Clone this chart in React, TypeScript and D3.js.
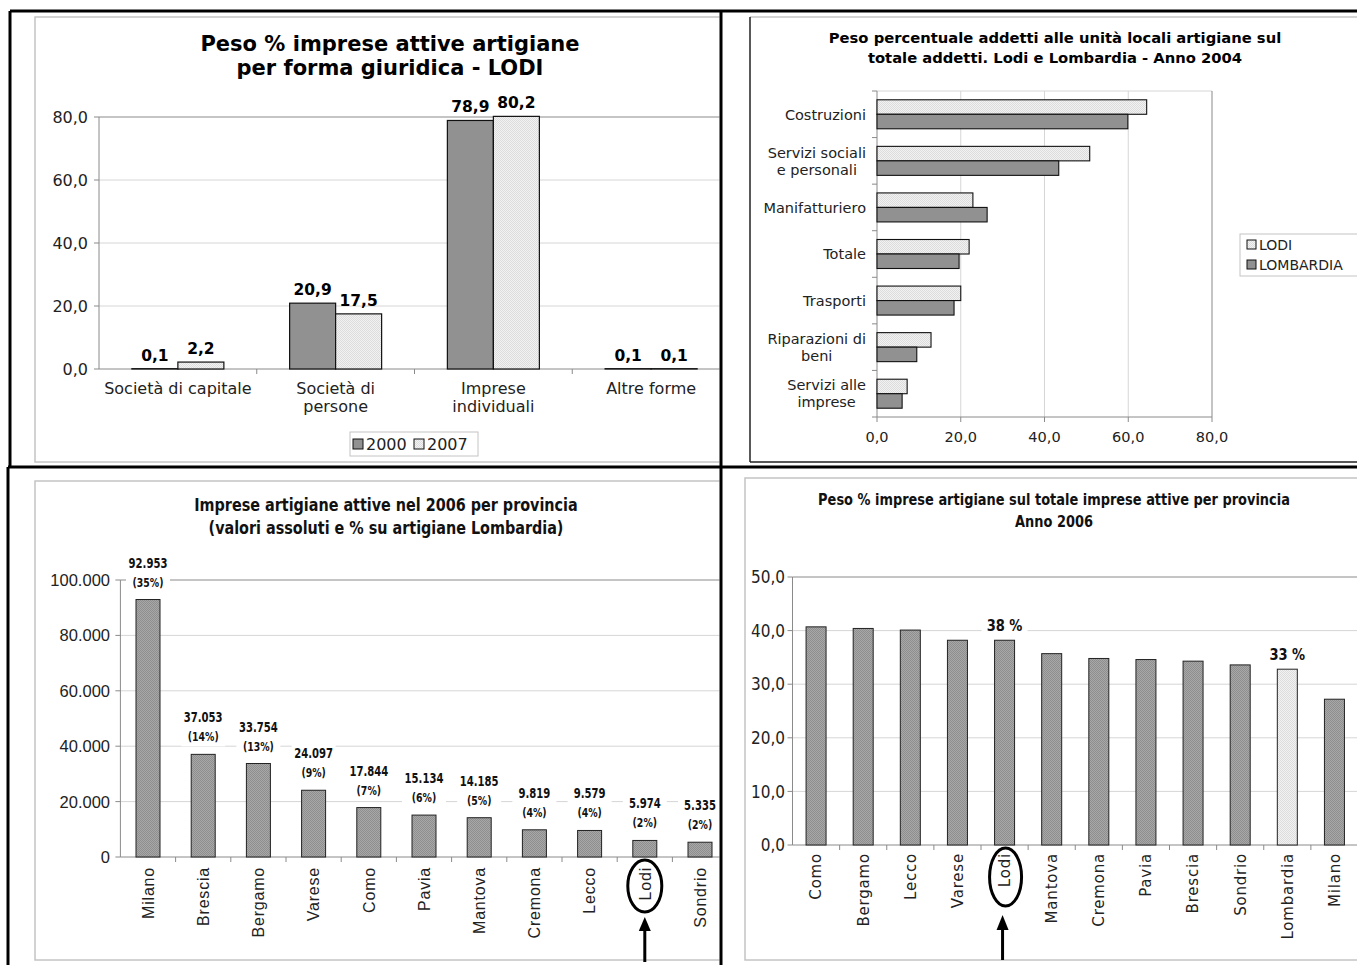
import React from 'react';
import * as d3 from 'd3';

// ---------- Peso % imprese attive artigiane per forma giuridica (LODI) ----------
const formeGiuridiche = ['Società di capitale', 'Società di\npersone', 'Imprese\nindividuali', 'Altre forme'];
const peso2000 = [0.1, 20.9, 78.9, 0.1];
const peso2007 = [2.2, 17.5, 80.2, 0.1];
const anni = ['2000', '2007'];
const tickForme = [0, 20, 40, 60, 80];

// ---------- Peso % addetti unità locali artigiane, Lodi e Lombardia 2004 ----------
const settori = [
  'Costruzioni',
  'Servizi sociali\ne personali',
  'Manifatturiero',
  'Totale',
  'Trasporti',
  'Riparazioni di\nbeni',
  'Servizi alle\nimprese',
];
const addettiLodi = [64.4, 50.8, 22.9, 22.0, 20.0, 12.9, 7.2];
const addettiLombardia = [59.9, 43.4, 26.3, 19.6, 18.4, 9.5, 6.0];
const territori = ['LODI', 'LOMBARDIA'];
const tickSettori = [0, 20, 40, 60, 80];

// ---------- Imprese artigiane attive nel 2006 per provincia ----------
const province = ['Milano', 'Brescia', 'Bergamo', 'Varese', 'Como', 'Pavia', 'Mantova', 'Cremona', 'Lecco', 'Lodi', 'Sondrio'];
const impreseAttive = [92953, 37053, 33754, 24097, 17844, 15134, 14185, 9819, 9579, 5974, 5335];
const quotaLombardia = [35, 14, 13, 9, 7, 6, 5, 4, 4, 2, 2];
const tickImprese = [0, 20000, 40000, 60000, 80000, 100000];

// ---------- Peso % imprese artigiane sul totale imprese attive, 2006 ----------
const provincePeso = ['Como', 'Bergamo', 'Lecco', 'Varese', 'Lodi', 'Mantova', 'Cremona', 'Pavia', 'Brescia', 'Sondrio', 'Lombardia', 'Milano'];
const pesoArtigiane = [40.7, 40.4, 40.1, 38.2, 38.2, 35.7, 34.8, 34.6, 34.3, 33.6, 32.8, 27.2];
const tickPeso = [0, 10, 20, 30, 40, 50];
const conEtichetta = ['Lodi', 'Lombardia'];
const mediaRegionale = 'Lombardia';
const provinciaEvidenziata = 'Lodi';

// ---------- formatting & fonts ----------
const it = d3.formatLocale({ decimal: ',', thousands: '.', grouping: [3], currency: ['€', ''] });
const fmt1 = it.format('.1f');
const fmtInt = it.format(',d');

const VERDANA = "'DejaVu Sans', Verdana, sans-serif";
const ARIAL = "'Liberation Sans', Arial, sans-serif";
const NARROW = "'DejaVu Sans Condensed', 'Arial Narrow', sans-serif";

const DARK = '#919191';
const AXIS = '#8a8a8a';
const GRID = '#d6d6d6';
const FRAME = '#c4c4c4';

let measureCtx: CanvasRenderingContext2D | null = null;
function textWidth(s: string, font: string): number {
  if (!measureCtx) measureCtx = document.createElement('canvas').getContext('2d');
  if (!measureCtx) return s.length * 7;
  measureCtx.font = font;
  return measureCtx.measureText(s).width;
}

// Bold condensed text, squeezed horizontally to a narrow face.
function NarrowText(props: { x: number; y: number; size: number; sx: number; children: React.ReactNode; weight?: string }) {
  const { x, y, size, sx, children, weight = 'bold' } = props;
  return (
    <text
      transform={`translate(${x},${y}) scale(${sx},1)`}
      textAnchor="middle"
      fontFamily={NARROW}
      fontWeight={weight}
      fontSize={size}
      fill="#111"
    >
      {children}
    </text>
  );
}

function Patterns() {
  return (
    <defs>
      <pattern id="pLight" width="2" height="2" patternUnits="userSpaceOnUse">
        <rect width="2" height="2" fill="#f2f2f2" />
        <rect width="1" height="1" fill="#dcdcdc" />
        <rect x="1" y="1" width="1" height="1" fill="#dcdcdc" />
      </pattern>
      <pattern id="pDark" width="2" height="2" patternUnits="userSpaceOnUse">
        <rect width="2" height="2" fill="#a8a8a8" />
        <rect width="1" height="1" fill="#8e8e8e" />
        <rect x="1" y="1" width="1" height="1" fill="#8e8e8e" />
      </pattern>
      <pattern id="pLight2" width="2" height="2" patternUnits="userSpaceOnUse">
        <rect width="2" height="2" fill="#f2f2f2" />
        <rect width="1" height="1" fill="#dcdcdc" />
        <rect x="1" y="1" width="1" height="1" fill="#dcdcdc" />
      </pattern>
      <clipPath id="clip1"><rect x="11.5" y="12.5" width="708" height="453" /></clipPath>
      <clipPath id="clip2"><rect x="722.5" y="12.5" width="640" height="453" /></clipPath>
      <clipPath id="clip3"><rect x="9.5" y="468.5" width="710" height="500" /></clipPath>
      <clipPath id="clip4"><rect x="722.5" y="468.5" width="640" height="500" /></clipPath>
    </defs>
  );
}

// ---------- chart 1 ----------
function FormaGiuridica() {
  const x = d3.scaleBand<string>().domain(formeGiuridiche).range([99, 730]);
  const y = d3.scaleLinear().domain([0, 80]).range([369, 117]);
  const barW = 46;
  const x0 = 99, x1 = 730;
  return (
    <g clipPath="url(#clip1)">
      <rect x={35} y={17} width={720} height={445} fill="#fff" stroke={FRAME} strokeWidth={1.5} />
      <text x={390} y={51} textAnchor="middle" fontFamily={VERDANA} fontWeight="bold" fontSize={21}>
        Peso % imprese attive artigiane
      </text>
      <text x={390} y={75} textAnchor="middle" fontFamily={VERDANA} fontWeight="bold" fontSize={21}>
        per forma giuridica - LODI
      </text>
      {tickForme.map((t) => (
        <g key={t}>
          {t > 0 && (
            <line x1={x0} x2={x1} y1={y(t)} y2={y(t)} stroke={t === 80 ? AXIS : GRID} strokeWidth={1} />
          )}
          <line x1={x0 - 5} x2={x0} y1={y(t)} y2={y(t)} stroke={AXIS} />
          <text x={88} y={y(t)} dy="0.36em" textAnchor="end" fontFamily={VERDANA} fontSize={16} fill="#222">
            {fmt1(t)}
          </text>
        </g>
      ))}
      <line x1={x0} x2={x0} y1={y(80)} y2={y(0)} stroke={AXIS} />
      <line x1={x0} x2={x1} y1={y(0)} y2={y(0)} stroke={AXIS} />
      {formeGiuridiche.map((c, i) => {
        const cx = (x(c) as number) + x.bandwidth() / 2;
        return (
          <g key={c}>
            <line x1={x(c)! + x.bandwidth()} x2={x(c)! + x.bandwidth()} y1={y(0)} y2={y(0) + 5} stroke={AXIS} />
            <rect x={cx - barW} y={y(peso2000[i])} width={barW} height={y(0) - y(peso2000[i])} fill={DARK} stroke="#111" strokeWidth={1.2} />
            <rect x={cx} y={y(peso2007[i])} width={barW} height={y(0) - y(peso2007[i])} fill="url(#pLight)" stroke="#111" strokeWidth={1.2} />
            <text x={cx - barW / 2} y={y(peso2000[i]) - 8} textAnchor="middle" fontFamily={VERDANA} fontWeight="bold" fontSize={15.5}>
              {fmt1(peso2000[i])}
            </text>
            <text x={cx + barW / 2} y={y(peso2007[i]) - 8} textAnchor="middle" fontFamily={VERDANA} fontWeight="bold" fontSize={15.5}>
              {fmt1(peso2007[i])}
            </text>
            {c.split('\n').map((line, k) => (
              <text key={k} x={cx} y={394 + k * 18} textAnchor="middle" fontFamily={VERDANA} fontSize={16} fill="#222">
                {line}
              </text>
            ))}
          </g>
        );
      })}
      {/* legend */}
      <rect x={350} y={432} width={128} height={24} fill="#fff" stroke={FRAME} />
      {anni.map((a, k) => (
        <g key={a}>
          <rect x={353 + k * 61} y={439} width={10} height={10} fill={k === 0 ? DARK : 'url(#pLight)'} stroke="#111" />
          <text x={366 + k * 61} y={450} fontFamily={VERDANA} fontSize={16} fill="#222">{a}</text>
        </g>
      ))}
    </g>
  );
}

// ---------- chart 2 ----------
function AddettiSettori() {
  const y = d3.scaleBand<string>().domain(settori).range([91, 417]);
  const x = d3.scaleLinear().domain([0, 80]).range([877, 1212]);
  const barH = 14.5;
  const fontSize = 14.5;
  const font = `${fontSize}px ${VERDANA}`;
  return (
    <g clipPath="url(#clip2)">
      <rect x={750} y={17} width={640} height={445} fill="#fff" stroke="none" />
      <line x1={750} x2={1400} y1={17} y2={17} stroke={FRAME} strokeWidth={1.5} />
      <line x1={750} x2={750} y1={17} y2={462} stroke="#222" strokeWidth={1.5} />
      <line x1={750} x2={1400} y1={462} y2={462} stroke="#222" strokeWidth={1.5} />
      <text x={1055} y={43} textAnchor="middle" fontFamily={VERDANA} fontWeight="bold" fontSize={14.75}>
        Peso percentuale addetti alle unità locali artigiane sul
      </text>
      <text x={1055} y={63} textAnchor="middle" fontFamily={VERDANA} fontWeight="bold" fontSize={14.75}>
        totale addetti. Lodi e Lombardia - Anno 2004
      </text>
      <line x1={x(0)} x2={x(80)} y1={91} y2={91} stroke={GRID} />
      {tickSettori.map((t) => (
        <g key={t}>
          {t > 0 && <line x1={x(t)} x2={x(t)} y1={91} y2={417} stroke={t === 80 ? AXIS : GRID} />}
          <line x1={x(t)} x2={x(t)} y1={417} y2={422} stroke={AXIS} />
          <text x={x(t)} y={442} textAnchor="middle" fontFamily={VERDANA} fontSize={fontSize} fill="#222">
            {fmt1(t)}
          </text>
        </g>
      ))}
      <line x1={x(0)} x2={x(0)} y1={91} y2={417} stroke={AXIS} />
      <line x1={x(0)} x2={x(80)} y1={417} y2={417} stroke={AXIS} />
      {settori.map((s, i) => {
        const top = y(s) as number;
        const cy = top + y.bandwidth() / 2;
        const lines = s.split('\n');
        const maxW = Math.max(...lines.map((l) => textWidth(l, font)));
        return (
          <g key={s}>
            <line x1={x(0) - 5} x2={x(0)} y1={top} y2={top} stroke={AXIS} />
            <rect x={x(0)} y={cy - barH} width={x(addettiLodi[i]) - x(0)} height={barH} fill="url(#pLight)" stroke="#111" strokeWidth={1.1} />
            <rect x={x(0)} y={cy} width={x(addettiLombardia[i]) - x(0)} height={barH} fill={DARK} stroke="#111" strokeWidth={1.1} />
            {lines.length === 1 ? (
              <text x={866} y={cy} dy="0.36em" textAnchor="end" fontFamily={VERDANA} fontSize={fontSize} fill="#222">{s}</text>
            ) : (
              lines.map((l, k) => (
                <text key={k} x={866 - maxW / 2} y={cy + (k - (lines.length - 1) / 2) * 17} dy="0.36em" textAnchor="middle" fontFamily={VERDANA} fontSize={fontSize} fill="#222">
                  {l}
                </text>
              ))
            )}
          </g>
        );
      })}
      <line x1={x(0) - 5} x2={x(0)} y1={417} y2={417} stroke={AXIS} />
      {/* legend */}
      <rect x={1240} y={234} width={140} height={42} fill="#fff" stroke={FRAME} />
      {territori.map((t, k) => (
        <g key={t}>
          <rect x={1247} y={240 + k * 20} width={9} height={9} fill={k === 0 ? 'url(#pLight)' : DARK} stroke="#111" />
          <text x={1259} y={250 + k * 20} fontFamily={VERDANA} fontSize={14} fill="#222">{t}</text>
        </g>
      ))}
    </g>
  );
}

// ---------- chart 3 ----------
function ImpreseProvince() {
  const x = d3.scaleBand<string>().domain(province).range([120.4, 727.6]);
  const y = d3.scaleLinear().domain([0, 100000]).range([857, 580]);
  const barW = 24;
  const x0 = 120.4, x1 = 730;
  const iLodi = province.indexOf(provinciaEvidenziata);
  const cLodi = (x(provinciaEvidenziata) as number) + x.bandwidth() / 2;
  return (
    <g clipPath="url(#clip3)">
      <rect x={35} y={481} width={720} height={479} fill="#fff" stroke={FRAME} strokeWidth={1.5} />
      <NarrowText x={386} y={511} size={17} sx={0.94}>Imprese artigiane attive nel 2006 per provincia</NarrowText>
      <NarrowText x={386} y={534} size={17} sx={0.94}>(valori assoluti e % su artigiane Lombardia)</NarrowText>
      {tickImprese.map((t) => (
        <g key={t}>
          {t > 0 && <line x1={x0} x2={x1} y1={y(t)} y2={y(t)} stroke={t === 100000 ? AXIS : GRID} />}
          <line x1={x0 - 5} x2={x0} y1={y(t)} y2={y(t)} stroke={AXIS} />
          <text x={110} y={y(t)} dy="0.36em" textAnchor="end" fontFamily={ARIAL} fontSize={16.5} fill="#222">
            {fmtInt(t)}
          </text>
        </g>
      ))}
      <line x1={x0} x2={x0} y1={y(100000)} y2={y(0)} stroke={AXIS} />
      <line x1={x0} x2={x1} y1={y(0)} y2={y(0)} stroke={AXIS} />
      {province.map((p, i) => {
        const cx = (x(p) as number) + x.bandwidth() / 2;
        const top = y(impreseAttive[i]);
        return (
          <g key={p}>
            <line x1={x(p)! + x.bandwidth()} x2={x(p)! + x.bandwidth()} y1={y(0)} y2={y(0) + 5} stroke={AXIS} />
            <rect x={cx - barW / 2} y={top} width={barW} height={y(0) - top} fill="url(#pDark)" stroke="#222" strokeWidth={1} />
            <rect x={cx - 22} y={top - 47} width={44} height={39} fill="#fff" />
            <NarrowText x={cx} y={top - 32} size={14} sx={0.8}>{fmtInt(impreseAttive[i])}</NarrowText>
            <NarrowText x={cx} y={top - 13} size={13} sx={0.8}>({quotaLombardia[i]}%)</NarrowText>
            <text
              transform={`translate(${cx},${y(0) + 10}) rotate(-90)`}
              dy="0.36em"
              textAnchor="end"
              fontFamily={ARIAL}
              fontSize={16}
              letterSpacing={0.8}
              fill="#222"
            >
              {p}
            </text>
          </g>
        );
      })}
      {iLodi >= 0 && (
        <g>
          <ellipse cx={cLodi} cy={886} rx={17} ry={26} fill="none" stroke="#000" strokeWidth={3} />
          <line x1={cLodi} x2={cLodi} y1={962} y2={930} stroke="#000" strokeWidth={3} />
          <path d={`M${cLodi - 6},${931} L${cLodi},${917} L${cLodi + 6},${931} Z`} fill="#000" />
        </g>
      )}
    </g>
  );
}

// ---------- chart 4 ----------
function PesoProvince() {
  const x = d3.scaleBand<string>().domain(provincePeso).range([792.5, 1358]);
  const y = d3.scaleLinear().domain([0, 50]).range([845, 577]);
  const barW = 20;
  const x0 = 792.5, x1 = 1360;
  const cLodi = (x(provinciaEvidenziata) as number) + x.bandwidth() / 2;
  return (
    <g clipPath="url(#clip4)">
      <rect x={745} y={478} width={640} height={482} fill="#fff" stroke={FRAME} strokeWidth={1.5} />
      <NarrowText x={1054} y={505} size={16} sx={0.9}>Peso % imprese artigiane sul totale imprese attive per provincia</NarrowText>
      <NarrowText x={1054} y={527} size={16} sx={0.9}>Anno 2006</NarrowText>
      {tickPeso.map((t) => (
        <g key={t}>
          {t > 0 && <line x1={x0} x2={x1} y1={y(t)} y2={y(t)} stroke={t === 50 ? AXIS : GRID} />}
          <line x1={x0 - 5} x2={x0} y1={y(t)} y2={y(t)} stroke={AXIS} />
          <text x={785} y={y(t)} dy="0.36em" textAnchor="end" fontFamily={NARROW} fontSize={17} fill="#222">
            {fmt1(t)}
          </text>
        </g>
      ))}
      <line x1={x0} x2={x0} y1={y(50)} y2={y(0)} stroke={AXIS} />
      <line x1={x0} x2={x1} y1={y(0)} y2={y(0)} stroke={AXIS} />
      {provincePeso.map((p, i) => {
        const cx = (x(p) as number) + x.bandwidth() / 2;
        const top = y(pesoArtigiane[i]);
        const label = conEtichetta.includes(p);
        return (
          <g key={p}>
            <line x1={x(p)! + x.bandwidth()} x2={x(p)! + x.bandwidth()} y1={y(0)} y2={y(0) + 5} stroke={AXIS} />
            <rect x={cx - barW / 2} y={top} width={barW} height={y(0) - top}
              fill={p === mediaRegionale ? 'url(#pLight2)' : 'url(#pDark)'} stroke="#222" strokeWidth={1} />
            {label && (
              <g>
                <rect x={cx - 23} y={top - 26} width={46} height={20} fill="#fff" />
                <NarrowText x={cx} y={top - 9} size={16.5} sx={0.88}>{Math.round(pesoArtigiane[i])} %</NarrowText>
              </g>
            )}
            <text
              transform={`translate(${cx},${y(0) + 8}) rotate(-90)`}
              dy="0.36em"
              textAnchor="end"
              fontFamily={VERDANA}
              fontSize={15}
              letterSpacing={0.8}
              fill="#222"
            >
              {p}
            </text>
          </g>
        );
      })}
      <ellipse cx={cLodi + 1} cy={877} rx={16} ry={29} fill="none" stroke="#000" strokeWidth={3} />
      <line x1={cLodi - 2} x2={cLodi - 2} y1={960} y2={928} stroke="#000" strokeWidth={3} />
      <path d={`M${cLodi - 8},${930} L${cLodi - 2},${915} L${cLodi + 4},${930} Z`} fill="#000" />
    </g>
  );
}

function Frames() {
  return (
    <g stroke="#000" strokeWidth={3} fill="none">
      <line x1={10} x2={1357} y1={11} y2={11} />
      <line x1={10} x2={10} y1={11} y2={467} />
      <line x1={8} x2={8} y1={467} y2={965} />
      <line x1={721} x2={721} y1={11} y2={965} />
      <line x1={8} x2={1357} y1={467} y2={467} />
    </g>
  );
}

export default function App() {
  return (
    <svg
      width={1357}
      height={965}
      viewBox="0 0 1357 965"
      style={{ position: 'absolute', left: 0, top: 0, background: '#fff' }}
    >
      <Patterns />
      <rect width={1357} height={965} fill="#fff" />
      <FormaGiuridica />
      <AddettiSettori />
      <ImpreseProvince />
      <PesoProvince />
      <Frames />
    </svg>
  );
}
